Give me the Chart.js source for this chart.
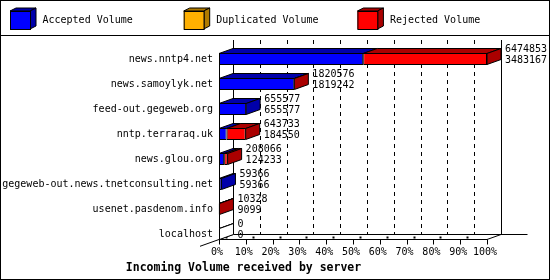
<!DOCTYPE html>
<html>
<head>
<meta charset="utf-8">
<script src="https://cdn.jsdelivr.net/npm/chart.js@4.4.1/dist/chart.umd.min.js"></script>
<style>
  html, body { margin: 0; padding: 0; background: #fff; }
  canvas { display: block; }
</style>
</head>
<body>
<canvas id="chart" width="550" height="280"></canvas>
<script>
const servers = [
  "news.nntp4.net",
  "news.samoylyk.net",
  "feed-out.gegeweb.org",
  "nntp.terraraq.uk",
  "news.glou.org",
  "gegeweb-out.news.tnetconsulting.net",
  "usenet.pasdenom.info",
  "localhost",
]
const totalVolume = [6474853, 1820576, 655577, 643733, 208066, 59366, 10328, 0]
const acceptedVolume = [3483167, 1819242, 655577, 184550, 124233, 59366, 9099, 0]
const duplicatedVolume = [0, 0, 0, 0, 0, 0, 0, 0]
const rejectedVolume = [2991686, 1334, 0, 459183, 83833, 0, 1229, 0]
const percentTicks = [0, 10, 20, 30, 40, 50, 60, 70, 80, 90, 100]

const seriesNames = ["Accepted Volume", "Duplicated Volume", "Rejected Volume"]
const frontColors = ["#0000ff", "#ffb000", "#ff0000"]
const darkColors = ["#0000aa", "#b07b00", "#aa0000"]

const DX = 14
const DY = -5
const FONT = "DejaVu Sans Mono"

function poly(ctx, pts, fill) {
  ctx.beginPath()
  ctx.moveTo(pts[0][0], pts[0][1])
  for (let i = 1; i < pts.length; i++) ctx.lineTo(pts[i][0], pts[i][1])
  ctx.closePath()
  ctx.fillStyle = fill
  ctx.fill()
  ctx.stroke()
}

function line(ctx, x1, y1, x2, y2) {
  ctx.beginPath()
  ctx.moveTo(x1, y1)
  ctx.lineTo(x2, y2)
  ctx.stroke()
}

// walls, floor and back grid, then the 3d faces of each bar
const box3d = {
  id: "box3d",
  beforeDatasetsDraw(chart) {
    const { ctx, chartArea: a, scales: { x, y } } = chart
    const x0 = x.getPixelForValue(x.min)
    const x1 = x.getPixelForValue(x.max)
    const first = chart.getDatasetMeta(0).data[0]
    const last = chart.getDatasetMeta(0).data[servers.length - 1]
    const floor = last.y + last.height / 2 - 0.5
    const firstTop = first.y - first.height / 2
    const top = a.top - 6.5
    ctx.save()
    ctx.strokeStyle = "#000"
    ctx.lineWidth = 1

    ctx.setLineDash([4, 4])
    x.ticks.forEach((t, i) => {
      if (i === 0 || i === x.ticks.length - 1) return
      const px = Math.round(x.getPixelForValue(t.value) + DX) + 0.5
      line(ctx, px, top, px, floor + DY)
    })
    ctx.setLineDash([])

    const bl = Math.round(x0 + DX) + 0.5
    const br = Math.round(x1 + DX) + 0.5
    line(ctx, bl, top, bl, floor + DY)
    line(ctx, br, top, br, floor + DY)
    line(ctx, bl, floor + DY, br + 26, floor + DY)
    line(ctx, x0, floor, x1, floor)
    line(ctx, x1, floor, x1 + DX, floor + DY)
    line(ctx, x0 - 19, floor + 19 * 5 / 14, x0 + DX, floor + DY)
    line(ctx, x0 + 0.5, firstTop, x0 + 0.5, floor + 5)

    ctx.fillStyle = "#000"
    x.ticks.forEach((t, i) => {
      const px = Math.round(x.getPixelForValue(t.value)) + 0.5
      if (i > 0) line(ctx, px, floor, px, floor + 5)
      if (i < x.ticks.length - 1) ctx.fillRect(px + 6, floor - 3, 2, 2)
    })
    ctx.restore()
  },
  afterDatasetsDraw(chart) {
    const { ctx } = chart
    const metas = chart.data.datasets.map((d, i) => chart.getDatasetMeta(i))
    ctx.save()
    ctx.strokeStyle = "#000"
    ctx.lineWidth = 1
    servers.forEach((s, i) => {
      let end = null
      metas.forEach((m, di) => {
        const el = m.data[i]
        const l = Math.min(el.base, el.x)
        const r = Math.max(el.base, el.x)
        const t = el.y - el.height / 2 + 0.5
        if (r - l > 0.05) {
          poly(ctx, [[l, t], [r, t], [r + DX, t + DY], [l + DX, t + DY]], darkColors[di])
          end = { r: r, t: t, b: el.y + el.height / 2 - 0.5, fill: darkColors[di] }
        }
      })
      const el0 = metas[0].data[i]
      if (!end) {
        const t = el0.y - el0.height / 2 + 0.5
        const r = el0.base + 0.5
        poly(ctx, [[r, t], [r + DX, t + DY], [r + DX, t + DY], [r, t]], "#fff")
        end = { r: r, t: t, b: el0.y + el0.height / 2 - 0.5, fill: "#fff" }
      }
      poly(ctx, [[end.r, end.t], [end.r + DX, end.t + DY], [end.r + DX, end.b + DY], [end.r, end.b]], end.fill)

      ctx.fillStyle = "#000"
      ctx.font = "10px '" + FONT + "'"
      ctx.textAlign = "left"
      ctx.textBaseline = "middle"
      ctx.fillText(String(totalVolume[i]), end.r + DX + 4, el0.y - 9.5)
      ctx.fillText(String(acceptedVolume[i]), end.r + DX + 4, el0.y + 1.5)
    })
    ctx.restore()
  },
  afterDraw(chart) {
    const { ctx } = chart
    ctx.save()
    ctx.strokeStyle = "#000"
    ctx.lineWidth = 1
    chart.data.datasets.forEach((d, i) => {
      const bx = 10 + i * 173.7
      const by = 11
      poly(ctx, [[bx, by], [bx + 6, by - 3], [bx + 26, by - 3], [bx + 20, by]], darkColors[i])
      poly(ctx, [[bx + 20, by], [bx + 26, by - 3], [bx + 26, by + 15], [bx + 20, by + 18]], darkColors[i])
      ctx.fillStyle = frontColors[i]
      ctx.fillRect(bx, by, 20, 18)
      ctx.strokeRect(bx + 0.5, by + 0.5, 20, 18)
      ctx.fillStyle = "#000"
      ctx.font = "10px '" + FONT + "'"
      ctx.textAlign = "left"
      ctx.textBaseline = "middle"
      ctx.fillText(d.label, bx + 32.5, 20.5)
    })
    line(ctx, 0, 35.5, 550, 35.5)
    ctx.strokeRect(0.5, 0.5, 549, 279)
    ctx.restore()
  },
}

Chart.defaults.font.family = FONT
Chart.defaults.font.size = 10
Chart.defaults.color = "#000"

const maxTotal = Math.max(...totalVolume)
const volumes = [acceptedVolume, duplicatedVolume, rejectedVolume]

new Chart(document.getElementById("chart"), {
  type: "bar",
  data: {
    labels: servers,
    datasets: volumes.map((v, i) => ({
      label: seriesNames[i],
      data: v,
      backgroundColor: frontColors[i],
      borderColor: "#000",
      borderWidth: 1,
      borderSkipped: false,
      inflateAmount: 0,
      barThickness: 12,
    })),
  },
  options: {
    indexAxis: "y",
    responsive: false,
    animation: false,
    events: [],
    layout: { padding: { top: 46.5, right: 63, left: 0, bottom: 0 } },
    scales: {
      x: {
        stacked: true,
        min: 0,
        max: maxTotal,
        grid: { display: false, drawTicks: false },
        border: { display: false },
        afterBuildTicks: (s) => {
          s.ticks = percentTicks.map((p) => ({ value: (p * maxTotal) / 100 }))
        },
        afterFit: (s) => {
          s.height = 12.7
        },
        ticks: {
          autoSkip: false,
          maxRotation: 0,
          padding: 0,
          labelOffset: -2,
          callback: (v, i) => percentTicks[i] + "%",
        },
      },
      y: {
        stacked: true,
        grid: { display: false, drawTicks: false },
        border: { display: false },
        afterFit: (s) => {
          s.width = 219
        },
        ticks: { autoSkip: false, padding: 6 },
      },
    },
    plugins: {
      legend: { display: false },
      tooltip: { enabled: false },
      title: {
        display: true,
        position: "bottom",
        text: "Incoming Volume received by server",
        font: { family: FONT, size: 11.5, weight: "bold" },
        padding: { top: 2, bottom: 5 },
      },
    },
  },
  plugins: [box3d],
})
</script>
</body>
</html>
